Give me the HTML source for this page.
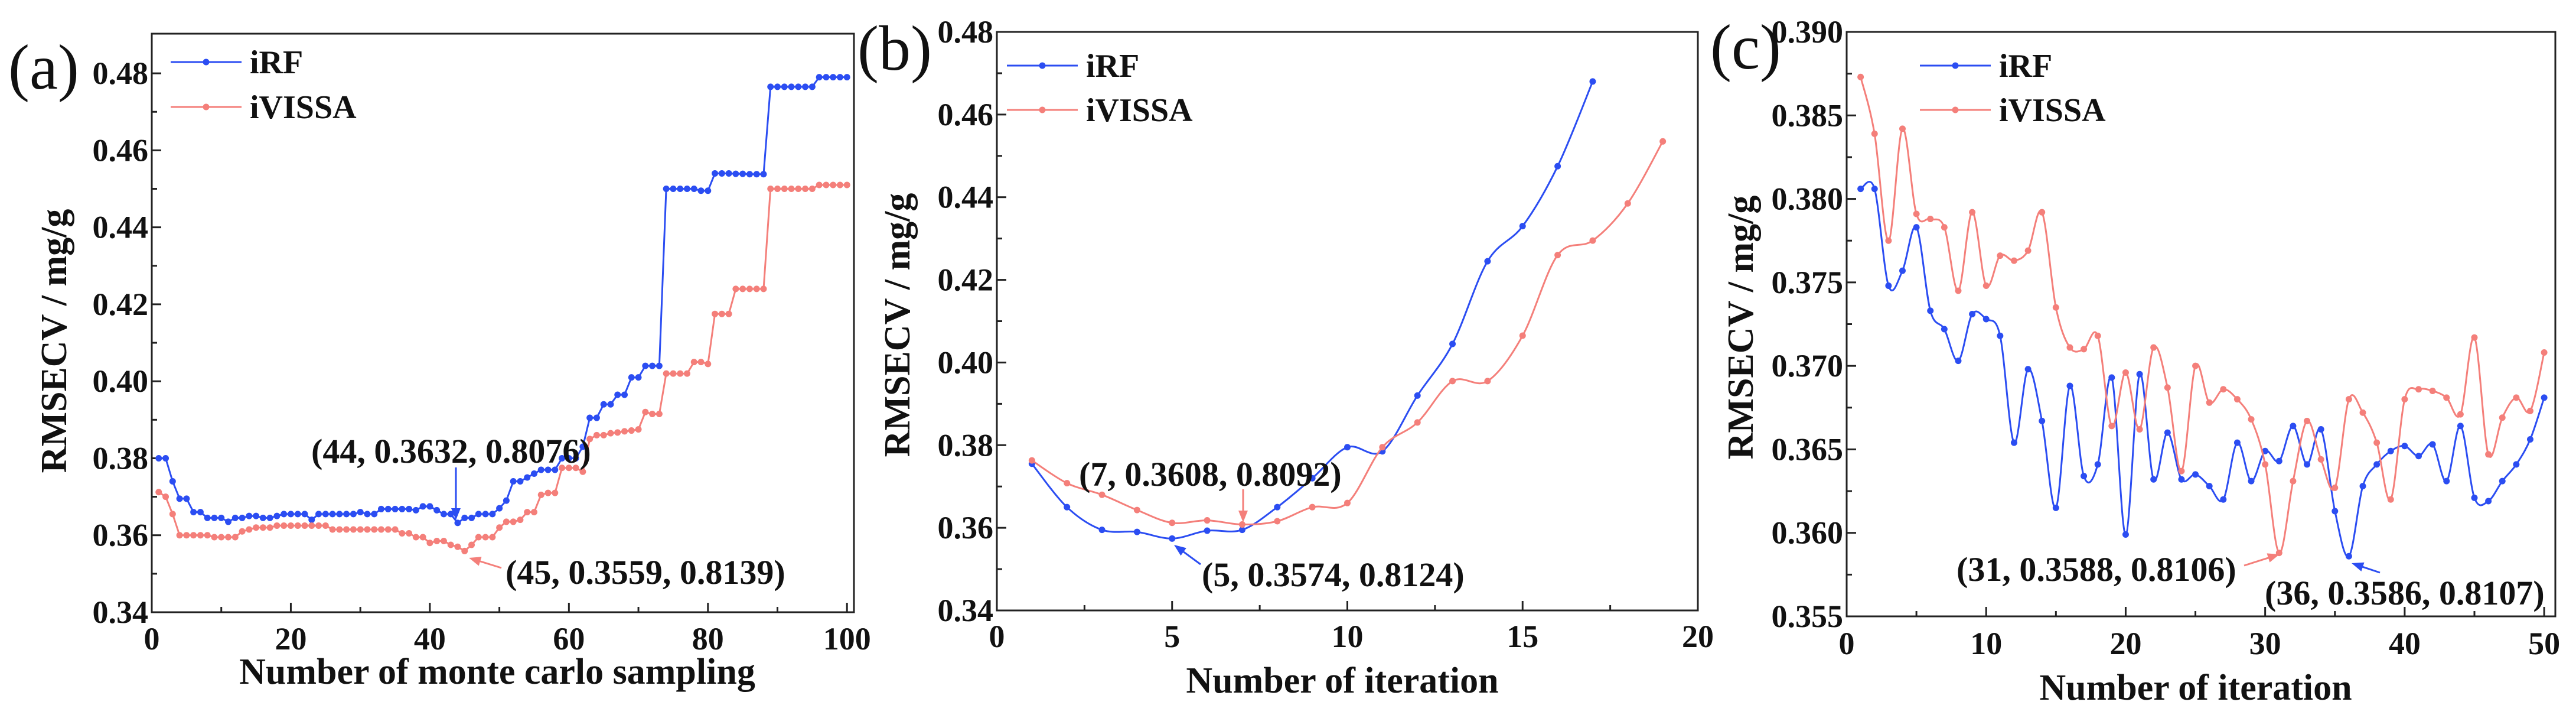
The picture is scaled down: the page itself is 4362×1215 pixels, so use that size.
<!DOCTYPE html>
<html><head><meta charset="utf-8"><style>
html,body{margin:0;padding:0;background:#fff;}
svg{display:block;font-family:"Liberation Serif","Times New Roman",serif;}
svg text{font-family:"Liberation Serif","Times New Roman",serif;}
</style></head><body>
<svg id="fig" width="4362" height="1215" viewBox="0 0 4362 1215" xmlns="http://www.w3.org/2000/svg"></svg>
<script>
// ---- Panel (a) data ----
const aX = Array.from({length:100},(_,i)=>i+1);
const aIRF = [0.380,0.380,0.374,0.3695,0.3695,0.366,0.366,0.3645,0.3645,0.3645,0.3635,0.3645,0.3645,0.365,0.365,0.3645,0.3645,0.365,0.3655,0.3655,0.3655,0.3655,0.364,0.3655,0.3655,0.3655,0.3655,0.3655,0.3655,0.366,0.3655,0.3655,0.3668,0.3668,0.3668,0.3668,0.3668,0.3665,0.3675,0.3675,0.3665,0.3655,0.3655,0.3632,0.3645,0.3645,0.3655,0.3655,0.3655,0.367,0.369,0.374,0.374,0.375,0.376,0.377,0.377,0.377,0.380,0.380,0.380,0.383,0.3905,0.3905,0.394,0.394,0.3965,0.3965,0.401,0.401,0.404,0.404,0.404,0.450,0.450,0.450,0.450,0.450,0.4495,0.4495,0.454,0.454,0.454,0.4539,0.4539,0.4538,0.4538,0.4538,0.4765,0.4765,0.4765,0.4765,0.4765,0.4765,0.4765,0.479,0.479,0.479,0.479,0.479];
const aIVISSA = [0.3712,0.370,0.3655,0.360,0.360,0.360,0.360,0.360,0.3595,0.3595,0.3595,0.3595,0.361,0.3615,0.362,0.362,0.362,0.3625,0.3625,0.3625,0.3625,0.3625,0.3625,0.3625,0.3625,0.3615,0.3615,0.3615,0.3615,0.3615,0.3615,0.3615,0.3615,0.3615,0.3615,0.3605,0.3605,0.3595,0.3595,0.358,0.3585,0.3585,0.3575,0.357,0.3559,0.3575,0.3595,0.3595,0.3595,0.362,0.3635,0.3635,0.364,0.366,0.366,0.3705,0.371,0.371,0.3775,0.3775,0.3775,0.3765,0.385,0.386,0.386,0.3865,0.3867,0.387,0.3872,0.3875,0.392,0.3915,0.3915,0.402,0.402,0.402,0.402,0.405,0.405,0.4045,0.4175,0.4175,0.4175,0.424,0.424,0.424,0.424,0.424,0.450,0.450,0.450,0.450,0.450,0.450,0.450,0.451,0.451,0.451,0.451,0.451];
const aXTicks = [0,20,40,60,80,100];
const aYTicks = [0.34,0.36,0.38,0.40,0.42,0.44,0.46,0.48];
// ---- Panel (b) data ----
const bXIRF = [1,2,3,4,5,6,7,8,9,10,11,12,13,14,15,16,17];
const bIRF = [0.3755,0.365,0.3595,0.359,0.3574,0.3593,0.3595,0.365,0.372,0.3795,0.3785,0.392,0.4045,0.4245,0.433,0.4475,0.468];
const bXIVISSA = [1,2,3,4,5,6,7,8,9,10,11,12,13,14,15,16,17,18,19];
const bIVISSA = [0.3763,0.3708,0.368,0.3643,0.3612,0.3618,0.3608,0.3616,0.365,0.366,0.3795,0.3855,0.3955,0.3955,0.4065,0.426,0.4295,0.4385,0.4535];
const bXTicks = [0,5,10,15,20];
const bYTicks = [0.34,0.36,0.38,0.40,0.42,0.44,0.46,0.48];
// ---- Panel (c) data ----
const cX = Array.from({length:50},(_,i)=>i+1);
const cIRF = [0.3806,0.3806,0.3748,0.3757,0.3783,0.3733,0.3722,0.3703,0.3731,0.3728,0.3718,0.3654,0.3698,0.3667,0.3615,0.3688,0.3634,0.3641,0.3693,0.3599,0.3695,0.3632,0.366,0.3632,0.3635,0.3628,0.362,0.3654,0.3631,0.3649,0.3643,0.3664,0.3641,0.3662,0.3613,0.3586,0.3628,0.3641,0.3649,0.3652,0.3646,0.3653,0.3631,0.3664,0.3621,0.3619,0.3631,0.3641,0.3656,0.3681];
const cIVISSA = [0.3873,0.3839,0.3775,0.3842,0.3791,0.3788,0.3783,0.3745,0.3792,0.3748,0.3766,0.3763,0.3769,0.3792,0.3735,0.3711,0.371,0.3718,0.3664,0.3696,0.3662,0.3711,0.3687,0.3637,0.37,0.3678,0.3686,0.368,0.3668,0.3641,0.3588,0.3631,0.3667,0.3644,0.3627,0.368,0.3672,0.3654,0.362,0.368,0.3686,0.3685,0.3681,0.3671,0.3717,0.3647,0.3669,0.3681,0.3673,0.3708];
const cXTicks = [0,10,20,30,40,50];
const cYTicks = [0.355,0.360,0.365,0.370,0.375,0.380,0.385,0.390];

const NS="http://www.w3.org/2000/svg";
const svg=document.getElementById('fig');
const BLUE="#2b4df2", RED="#f47f7a";
const FF='"Liberation Serif", "Times New Roman", serif';
function mk(tag,attrs,parent){const e=document.createElementNS(NS,tag);for(const k in attrs)e.setAttribute(k,attrs[k]);(parent||svg).appendChild(e);return e;}
function txt(s,attrs,parent){attrs['font-family']=FF;const e=mk('text',attrs,parent);e.textContent=s;return e;}

function linPath(pts){return pts.map((p,i)=>(i?'L':'M')+p[0].toFixed(1)+','+p[1].toFixed(1)).join('');}
function smoothPath(pts){let d='M'+pts[0][0]+','+pts[0][1];for(let i=0;i<pts.length-1;i++){const p0=pts[i-1]||pts[i],p1=pts[i],p2=pts[i+1],p3=pts[i+2]||p2;const c1=[p1[0]+(p2[0]-p0[0])/6,p1[1]+(p2[1]-p0[1])/6],c2=[p2[0]-(p3[0]-p1[0])/6,p2[1]-(p3[1]-p1[1])/6];d+='C'+c1[0].toFixed(1)+','+c1[1].toFixed(1)+' '+c2[0].toFixed(1)+','+c2[1].toFixed(1)+' '+p2[0].toFixed(1)+','+p2[1].toFixed(1);}return d;}

function panel(cfg){
  const g=mk('g',{});
  
  
  const sx=v=>cfg.L+(v-cfg.x0)/(cfg.x1-cfg.x0)*(cfg.R-cfg.L);
  const sy=v=>cfg.B-(v-cfg.y0)/(cfg.y1-cfg.y0)*(cfg.B-cfg.T);
  const tg=mk('g',{stroke:'#222','stroke-width':3},g);
  
  
  for(let i=0;i<cfg.xt.length;i++){const x=sx(cfg.xt[i]);mk('line',{x1:x,x2:x,y1:cfg.B,y2:cfg.B-16},tg);
    if(i<cfg.xt.length-1){const xm=sx((cfg.xt[i]+cfg.xt[i+1])/2);mk('line',{x1:xm,x2:xm,y1:cfg.B,y2:cfg.B-9},tg);}
    const l=txt(String(cfg.xt[i]),{x:x,y:cfg.xly,'text-anchor':'middle','font-size':54,'font-weight':'bold',fill:'#111'},g);
    
    }
  for(let i=0;i<cfg.yt.length;i++){const y=sy(cfg.yt[i]);mk('line',{x1:cfg.L,x2:cfg.L+16,y1:y,y2:y},tg);
    if(i<cfg.yt.length-1){const ym=sy((cfg.yt[i]+cfg.yt[i+1])/2);mk('line',{x1:cfg.L,x2:cfg.L+9,y1:ym,y2:ym},tg);}
    const l=txt(cfg.yt[i].toFixed(cfg.dec),{x:cfg.L-6,y:y+18,'text-anchor':'end','font-size':54,'font-weight':'bold',fill:'#111'},g);
    
    }
  cfg.series.forEach(s=>{
    const pts=s.x.map((xv,i)=>[sx(xv),sy(s.y[i])]);
    const sg=mk('g',{},g);
    
    
    mk('path',{d:cfg.smooth?smoothPath(pts):linPath(pts),fill:'none',stroke:s.c,'stroke-width':3},sg);
    pts.forEach(p=>{const c=mk('circle',{cx:p[0],cy:p[1],r:5.5,fill:s.c},sg);
      
      });
  });
  const f=mk('rect',{x:cfg.L,y:cfg.T,width:cfg.R-cfg.L,height:cfg.B-cfg.T,fill:'none',stroke:'#222','stroke-width':3},g);
  
  
  const lg=mk('g',{},g);
  
  
  [[cfg.leg[1],BLUE,'iRF'],[cfg.leg[2],RED,'iVISSA']].forEach(([y,c,n])=>{
    mk('line',{x1:cfg.leg[0],x2:cfg.leg[0]+120,y1:y,y2:y,stroke:c,'stroke-width':3},lg);
    mk('circle',{cx:cfg.leg[0]+60,cy:y,r:5.5,fill:c},lg);
    const t=txt(n,{x:cfg.leg[0]+134,y:y+19,'font-size':56,'font-weight':'bold',fill:'#111'},lg);
    
    
  });
  const xt=txt(cfg.xtitle,{x:cfg.xtx,y:cfg.xty,'text-anchor':'middle','font-size':62,'font-weight':'bold',fill:'#111'},g);
  
  
  const yt=txt('RMSECV / mg/g',{x:0,y:0,'text-anchor':'middle','font-size':62,'font-weight':'bold',fill:'#111',transform:`translate(${cfg.ytx},${cfg.yty}) rotate(-90)`},g);
  
  
  const pl=txt(cfg.label,{x:cfg.lab[0],y:cfg.lab[1],'font-size':108,fill:'#111'},g);
  
  
  cfg.ann.forEach(a=>{
    const t=txt(a.t,{x:a.x,y:a.y,'font-size':58,'font-weight':'bold',fill:'#111'},g);
    
    
    const ang=Math.atan2(a.a[3]-a.a[1],a.a[2]-a.a[0]);const L=20,W=8;
    mk('line',{x1:a.a[0],y1:a.a[1],x2:a.a[2]-Math.cos(ang)*L*0.8,y2:a.a[3]-Math.sin(ang)*L*0.8,stroke:a.c,'stroke-width':3},g);
    const hx=a.a[2],hy=a.a[3],bx=hx-Math.cos(ang)*L,by=hy-Math.sin(ang)*L;
    mk('polygon',{points:`${hx},${hy} ${bx-Math.sin(ang)*W},${by+Math.cos(ang)*W} ${bx+Math.sin(ang)*W},${by-Math.cos(ang)*W}`,fill:a.c},g);
  });
}

panel({name:'panel-a',L:257,R:1446,T:57,B:1036,x0:0,x1:101,y0:0.34,y1:0.4903,xt:aXTicks,yt:aYTicks,dec:2,xly:1099,smooth:false,
  series:[{name:'series-irf',x:aX,y:aIRF,c:BLUE},{name:'series-ivissa',x:aX,y:aIVISSA,c:RED}],
  leg:[289,105,181],xtitle:'Number of monte carlo sampling',xtx:842,xty:1157,ytx:112,yty:577,label:'(a)',lab:[14,150],
  ann:[{t:'(44, 0.3632, 0.8076)',x:527,y:783,c:BLUE,a:[772,791,772,880]},
       {t:'(45, 0.3559, 0.8139)',x:856,y:988,c:RED,a:[849,961,794,944]}]});
panel({name:'panel-b',L:1688,R:2875,T:54,B:1033,x0:0,x1:20,y0:0.34,y1:0.48,xt:bXTicks,yt:bYTicks,dec:2,xly:1095,smooth:true,
  series:[{name:'series-irf',x:bXIRF,y:bIRF,c:BLUE},{name:'series-ivissa',x:bXIVISSA,y:bIVISSA,c:RED}],
  leg:[1705,111,186],xtitle:'Number of iteration',xtx:2273,xty:1172,ytx:1540,yty:550,label:'(b)',lab:[1452,118],
  ann:[{t:'(7, 0.3608, 0.8092)',x:1827,y:822,c:RED,a:[2105,828,2105,884]},
       {t:'(5, 0.3574, 0.8124)',x:2035,y:992,c:BLUE,a:[2033,955,1988,922]}]});
panel({name:'panel-c',L:3127,R:4327,T:54,B:1043,x0:0,x1:50.8,y0:0.355,y1:0.390,xt:cXTicks,yt:cYTicks,dec:3,xly:1107,smooth:true,
  series:[{name:'series-irf',x:cX,y:cIRF,c:BLUE},{name:'series-ivissa',x:cX,y:cIVISSA,c:RED}],
  leg:[3251,111,186],xtitle:'Number of iteration',xtx:3718,xty:1184,ytx:2968,yty:554,label:'(c)',lab:[2896,116],
  ann:[{t:'(31, 0.3588, 0.8106)',x:3313,y:983,c:RED,a:[3800,957,3860,938]},
       {t:'(36, 0.3586, 0.8107)',x:3835,y:1023,c:BLUE,a:[4030,969,3982,953]}]});
</script>
</body></html>
